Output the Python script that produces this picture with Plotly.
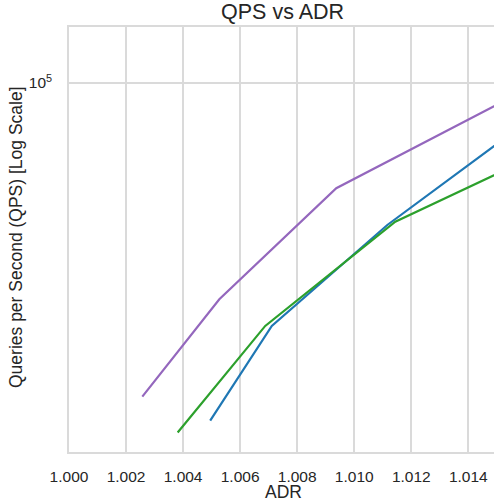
import plotly.graph_objects as go

# Data (ADR vs QPS)
purple_adr = [1.00257, 1.00527, 1.00937, 1.01600]
purple_qps = [16440, 28790, 54560, 96100]

blue_adr = [1.00495, 1.00711, 1.01116, 1.01600]
blue_qps = [14320, 24700, 44160, 79400]

green_adr = [1.00381, 1.00688, 1.01144, 1.01600]
green_qps = [13370, 24700, 44990, 64050]

x_ticks = [1.000, 1.002, 1.004, 1.006, 1.008, 1.010, 1.012, 1.014]
x_tick_text = ["1.000", "1.002", "1.004", "1.006", "1.008", "1.010", "1.012", "1.014"]
y_ticks = [1e5]
y_tick_text = ["10<sup>5</sup>"]

FONT = "Liberation Sans, Arial, sans-serif"
GRID = "#dadada"
TXT = "#262626"

L, T, B = 69, 27, 50
W, H = 494, 502
PH = H - T - B  # plot height
PW = W - L

fig = go.Figure()
for xs, ys, col in [
    (blue_adr, blue_qps, "#1f77b4"),
    (green_adr, green_qps, "#2ca02c"),
    (purple_adr, purple_qps, "#9467bd"),
]:
    fig.add_trace(go.Scatter(x=xs, y=ys, mode="lines",
                             line=dict(color=col, width=2.2),
                             showlegend=False, hoverinfo="skip"))

fig.update_layout(
    width=W, height=H,
    margin=dict(l=L, r=0, t=T, b=B, autoexpand=False),
    paper_bgcolor="white", plot_bgcolor="white",
    font=dict(family=FONT, color=TXT),
)
fig.update_xaxes(
    range=[1.000, 1.0149], automargin=False,
    tickvals=x_ticks, ticktext=x_tick_text,
    tickfont=dict(size=15.5, color=TXT),
    ticks="outside", ticklen=10, tickcolor="rgba(0,0,0,0)",
    showgrid=True, gridcolor=GRID, gridwidth=1.5,
    showline=True, linecolor=GRID, linewidth=1.5, mirror=True,
    zeroline=False,
)
fig.update_yaxes(
    type="log", automargin=False,
    range=[4.0775, 5.14],
    tickvals=y_ticks, ticktext=y_tick_text,
    tickfont=dict(size=15.5, color=TXT),
    ticks="outside", ticklen=12, tickcolor="rgba(0,0,0,0)",
    showgrid=True, gridcolor=GRID, gridwidth=1.5,
    showline=True, linecolor=GRID, linewidth=1.5, mirror=False,
    zeroline=False,
)

def px_x(p):
    return (p - L) / PW

def px_y(p):
    return (T + PH - p) / PH

fig.add_annotation(text="QPS vs ADR", xref="paper", yref="paper",
                   x=px_x(282), y=px_y(12.5), xanchor="center", yanchor="middle",
                   showarrow=False, font=dict(size=21.5, color=TXT))
fig.add_annotation(text="ADR", xref="paper", yref="paper",
                   x=px_x(283), y=px_y(492), xanchor="center", yanchor="middle",
                   showarrow=False, font=dict(size=17.5, color=TXT))
fig.add_annotation(text="Queries per Second (QPS) [Log Scale]", xref="paper", yref="paper",
                   x=px_x(16), y=px_y(237), xanchor="center", yanchor="middle",
                   textangle=-90, showarrow=False, font=dict(size=17.5, color=TXT))

fig.write_html("out.html", config={"displayModeBar": False},
               post_script="document.body.style.margin='0';document.body.style.overflow='hidden';")
